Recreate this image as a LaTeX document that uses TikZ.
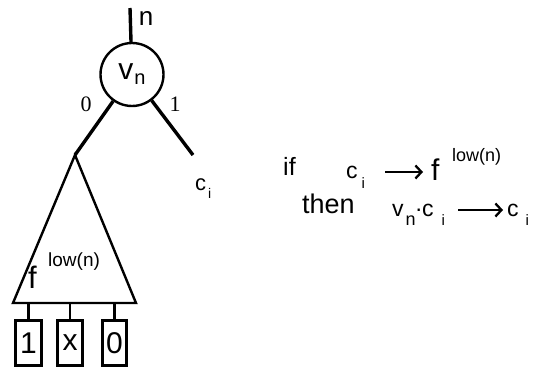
\documentclass[tikz,border=0pt]{standalone}
\usepackage{fontspec}
\setmainfont{Liberation Sans}
\newfontfamily\digitserif{Liberation Serif}
\usetikzlibrary{arrows.meta}
\newcommand{\figsize}[1]{\fontsize{#1}{#1}\selectfont}
\newcommand{\lowsub}[4]{\hspace{#1pt}\raisebox{-#2pt}{\figsize{#3}#4}}
\tikzset{
  bddnode/.style={
    draw,
    circle,
    line width=2.4pt,
    minimum size=63pt,
    inner sep=0pt
  },
  leafbox/.style={
    draw,
    line width=2.2pt,
    minimum height=45pt,
    inner sep=0pt,
    font=\figsize{30}
  },
  termtext/.style={
    inner sep=0pt,
    anchor=base west
  },
  treeedge/.style={line width=3.4pt},
  thinedge/.style={line width=2.4pt},
  implarrow/.style={
    line width=2.3pt,
    -{Straight Barb[length=6pt,width=13pt]}
  }
}

\begin{document}
\begin{tikzpicture}[x=1pt,y=-1pt]
  \useasboundingbox (0,0) rectangle (539,367);
  % node v_n with its two branches
  \node[bddnode] (vn) at (132,74.5) {\figsize{30}v\lowsub{1}{5}{20}{n}};
  \coordinate (top) at (130,8);
  \node[inner sep=0pt] (nlab) at (146,18.5) {\figsize{26}n};
  \node[inner sep=0pt] (zero) at (86,104.5) {\digitserif\figsize{22}0};
  \node[inner sep=0pt] (one) at (175,104.5) {\digitserif\figsize{22}1};
  \coordinate (apex) at (75,155);
  \coordinate (chigh) at (193,155);
  \draw[treeedge] (top) -- (vn);
  \draw[treeedge] (vn) -- (apex);
  \draw[treeedge] (vn) -- (chigh);
  \node[termtext] (ci) at (195,190) {\figsize{22}c\lowsub{2}{8}{14}{i}};
  % sub-diagram f^low(n)
  \coordinate (tl) at (13,303);
  \coordinate (tr) at (136,303);
  \draw[thinedge] (apex) -- (tl) -- (tr) -- cycle;
  \node[termtext] (flow) at (28,288) {\figsize{31}f};
  \node[termtext] (flowsup) at (48,266.5) {\figsize{19}low(n)};
  \node[leafbox, minimum width=26pt] (b1) at (28.5,343) {1};
  \node[leafbox, minimum width=25pt] (bx) at (70,343) {x};
  \node[leafbox, minimum width=24pt] (b0) at (114.5,343) {0};
  \foreach \leaf in {b1,bx,b0}{\draw[thinedge] (\leaf.north) -- (\leaf.north |- tl);}
  % rule on the right
  \node[termtext] (if) at (283,175) {\figsize{25}if};
  \node[termtext] (ca) at (346,178) {\figsize{23}c\lowsub{4}{10}{15}{i}};
  \node[termtext] (fa) at (431,180) {\figsize{30}f};
  \node[termtext] (fasup) at (452,161) {\figsize{18}low(n)};
  \coordinate (a1s) at (385,172);
  \coordinate (a1e) at (423,172);
  \draw[implarrow] (a1s) -- (a1e);
  \node[termtext] (then) at (302,213) {\figsize{27}then};
  \node[termtext] (vc) at (392,216) {\figsize{23}v\lowsub{2}{9}{18}{n}\raisebox{5pt}{.}c\lowsub{8}{9}{15}{i}};
  \coordinate (a2s) at (458,210);
  \coordinate (a2e) at (503,210);
  \draw[implarrow] (a2s) -- (a2e);
  \node[termtext] (cb) at (507,216) {\figsize{23}c\lowsub{7}{9}{15}{i}};
\end{tikzpicture}
\end{document}
